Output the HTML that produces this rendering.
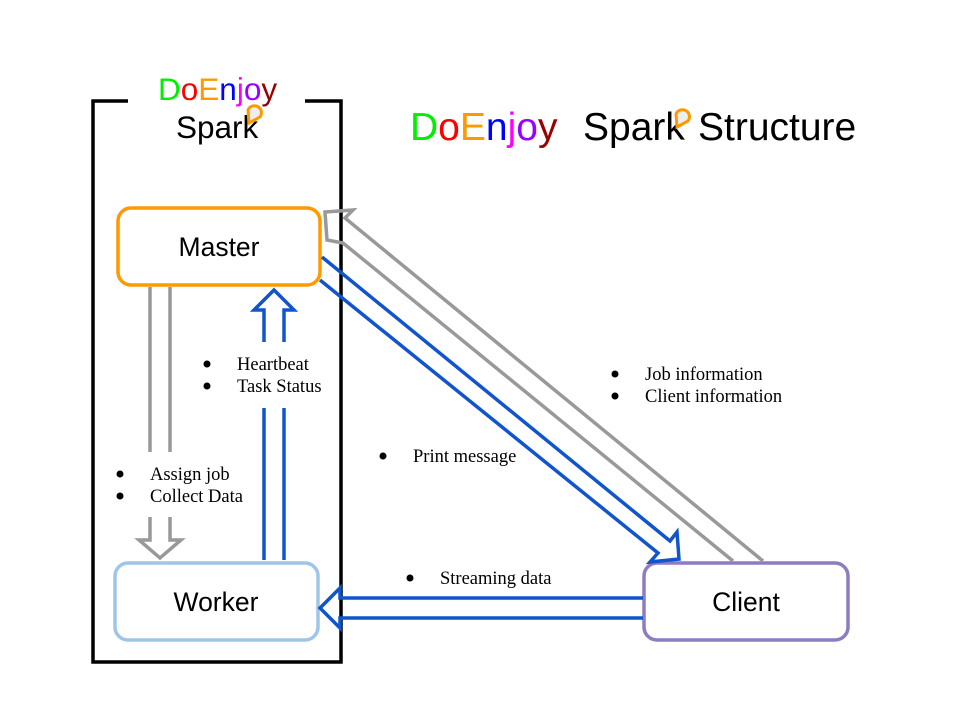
<!DOCTYPE html>
<html><head><meta charset="utf-8"><style>
html,body{margin:0;padding:0;background:#fff;}
svg{display:block;}
.s{font-family:"Liberation Sans",sans-serif;}
.r{font-family:"Liberation Serif",serif;font-size:18.5px;fill:#000;}
</style></head><body>
<svg width="960" height="720" viewBox="0 0 960 720" xmlns="http://www.w3.org/2000/svg">
<path d="M128 101 H93 V662 H341 V101 H305" fill="none" stroke="#000" stroke-width="3.5"/>
<text class="s" x="158" y="100" font-size="31.5"><tspan fill="#00ee00">D</tspan><tspan fill="#ff0000">o</tspan><tspan fill="#ff9900">E</tspan><tspan fill="#0000ff">n</tspan><tspan fill="#ff00ff">j</tspan><tspan fill="#9900ff">o</tspan><tspan fill="#990000">y</tspan></text>
<text class="s" x="176" y="138" font-size="31.5" fill="#000">Spark</text>
<path d="M249 123 L248 110 A7 7 0 1 1 260 117 Z" fill="#eee" stroke="#ff9900" stroke-width="3"/>
<text class="s" x="410" y="140" font-size="39"><tspan fill="#00ee00">D</tspan><tspan fill="#ff0000">o</tspan><tspan fill="#ff9900">E</tspan><tspan fill="#0000ff">n</tspan><tspan fill="#ff00ff">j</tspan><tspan fill="#9900ff">o</tspan><tspan fill="#990000">y</tspan></text>
<text class="s" x="583" y="140" font-size="39" fill="#000">Spark</text>
<text class="s" x="698" y="140" font-size="39" fill="#000">Structure</text>
<path d="M677 127 L676 114 A7 7 0 1 1 688 121 Z" fill="#eee" stroke="#ff9900" stroke-width="3"/>
<rect x="118" y="208" width="202" height="77" rx="13" fill="#fff" stroke="#ff9900" stroke-width="3.5"/>
<text class="s" x="219" y="256" font-size="26.5" text-anchor="middle">Master</text>
<rect x="115" y="563" width="203" height="77" rx="13" fill="#fff" stroke="#9fc5e8" stroke-width="3.5"/>
<text class="s" x="216" y="611" font-size="26.5" text-anchor="middle">Worker</text>
<rect x="644" y="563" width="204" height="77" rx="13" fill="#fff" stroke="#8e7cc3" stroke-width="3.5"/>
<text class="s" x="746" y="611" font-size="26.5" text-anchor="middle">Client</text>
<g stroke="#999" stroke-width="3.5" fill="none">
<path d="M150 287 V452 M170 287 V452"/>
<path d="M150 517 V540 H139 L160 558 L181 540 H170 V517"/>
</g>
<g stroke="#1155cc" stroke-width="3.5" fill="none">
<path d="M264 560 V408 M284 560 V408"/>
<path d="M264 342 V310 H254 L274 290 L294 310 H284 V342"/>
</g>
<g stroke="#999" stroke-width="3.5" fill="none">
<path d="M763 561 L345 218 L353 210 L325 212 L327 240 L343 243 L733 561"/>
</g>
<g stroke="#1155cc" stroke-width="3.5" fill="none">
<path d="M322 257 L670 541 L677 532 L679 559 L650 562 L658 553 L320 280"/>
</g>
<g stroke="#1155cc" stroke-width="3.5" fill="none">
<path d="M643 598 H340 V588 L320 608 L340 628 V618 H643"/>
</g>
<g>
<circle cx="207" cy="364" r="3.5"/><text class="r" x="237" y="370">Heartbeat</text>
<circle cx="207" cy="386" r="3.5"/><text class="r" x="237" y="392">Task Status</text>
<circle cx="120" cy="474" r="3.5"/><text class="r" x="150" y="480">Assign job</text>
<circle cx="120" cy="496" r="3.5"/><text class="r" x="150" y="502">Collect Data</text>
<circle cx="383" cy="456" r="3.5"/><text class="r" x="413" y="462">Print message</text>
<circle cx="410" cy="578" r="3.5"/><text class="r" x="440" y="584">Streaming data</text>
<circle cx="615" cy="374" r="3.5"/><text class="r" x="645" y="380">Job information</text>
<circle cx="615" cy="396" r="3.5"/><text class="r" x="645" y="402">Client information</text>
</g>
</svg>
</body></html>
